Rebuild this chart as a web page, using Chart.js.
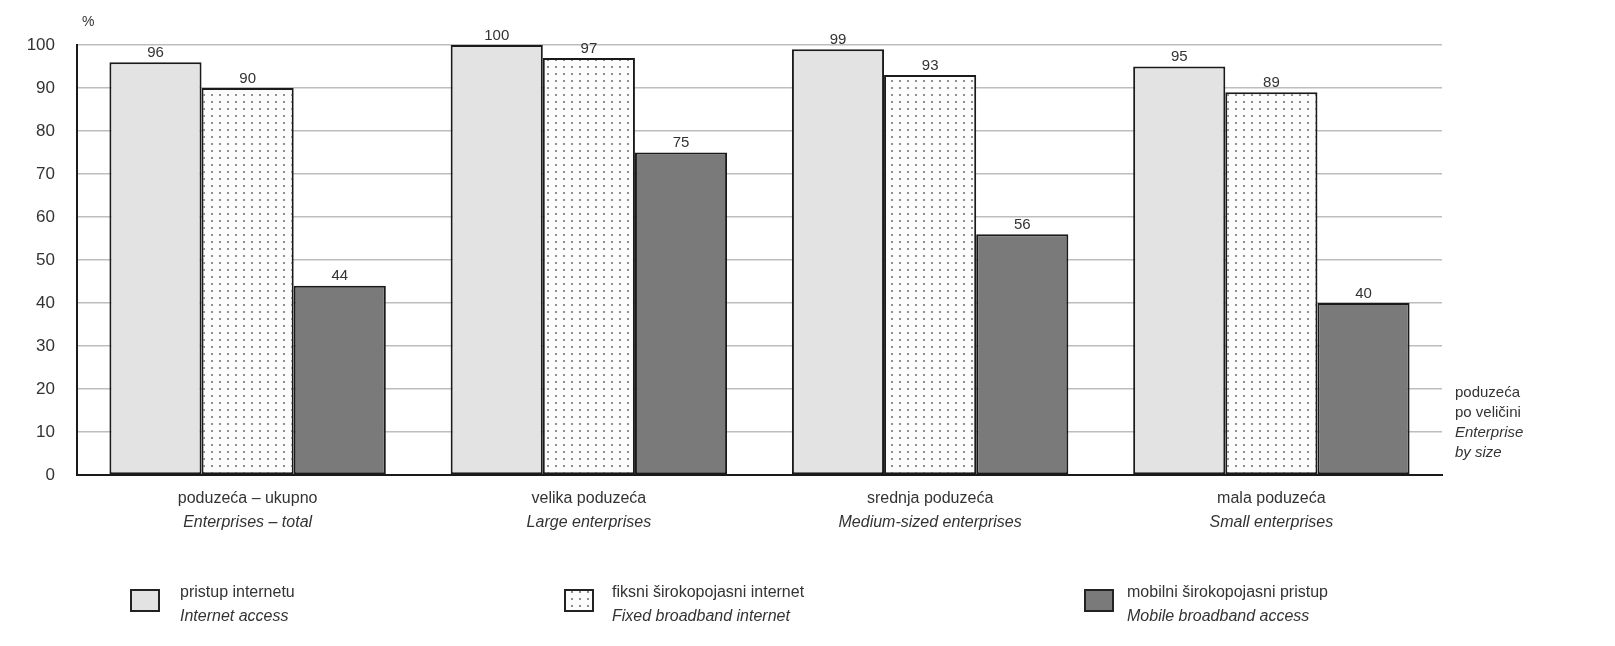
<!DOCTYPE html>
<html>
<head>
<meta charset="utf-8">
<script src="https://cdn.jsdelivr.net/npm/chart.js@4/dist/chart.umd.min.js"></script>
<style>
    html, body { margin: 0; padding: 0; background: #fff; overflow: hidden; }
    #wrap { width: 1615px; height: 646px; position: relative; }
</style>
</head>
<body>
<div id="wrap"><canvas id="chart"></canvas></div>
<script>
var categoriesHr = ["poduzeća – ukupno", "velika poduzeća", "srednja poduzeća", "mala poduzeća"];
var categoriesEn = ["Enterprises – total", "Large enterprises", "Medium-sized enterprises", "Small enterprises"];

var seriesHr = ["pristup internetu", "fiksni širokopojasni internet", "mobilni širokopojasni pristup"];
var seriesEn = ["Internet access", "Fixed broadband internet", "Mobile broadband access"];

var internetAccess = [96, 100, 99, 95];
var fixedBroadband = [90, 97, 93, 89];
var mobileBroadband = [44, 75, 56, 40];

var yTicks = [0, 10, 20, 30, 40, 50, 60, 70, 80, 90, 100];

var FONT = "'Liberation Sans', Arial, sans-serif";
var TEXT = "#333";

function makeDots() {
    var c = document.createElement("canvas");
    c.width = 8;
    c.height = 7;
    var g = c.getContext("2d");
    g.fillStyle = "#fcfcfc";
    g.fillRect(0, 0, 8, 7);
    g.fillStyle = "#8e8e8e";
    g.fillRect(3, 3, 2, 2);
    return g.createPattern(c, "repeat");
}
var dots = makeDots();

var fills = ["#e3e3e3", dots, "#7a7a7a"];

// value labels above bars
var valueLabels = {
    id: "valueLabels",
    afterDatasetsDraw: function (chart) {
        var ctx = chart.ctx;
        ctx.save();
        ctx.font = "15px " + FONT;
        ctx.fillStyle = TEXT;
        ctx.textAlign = "center";
        ctx.textBaseline = "bottom";
        chart.data.datasets.forEach(function (ds, i) {
            chart.getDatasetMeta(i).data.forEach(function (bar, j) {
                ctx.fillText(ds.data[j], bar.x, bar.y - 2);
            });
        });
        ctx.restore();
    }
};

// category labels, extra texts and legend
var extras = {
    id: "extras",
    afterDraw: function (chart) {
        var ctx = chart.ctx;
        var xs = chart.scales.x;
        ctx.save();
        ctx.fillStyle = TEXT;
        ctx.textBaseline = "middle";

        ctx.textAlign = "center";
        for (var i = 0; i < categoriesHr.length; i++) {
            var x = xs.getPixelForValue(i);
            ctx.font = "16px " + FONT;
            ctx.fillText(categoriesHr[i], x, 499);
            ctx.font = "italic 16px " + FONT;
            ctx.fillText(categoriesEn[i], x, 523);
        }

        ctx.textAlign = "left";
        ctx.font = "14px " + FONT;
        ctx.fillText("%", 82, 22);

        ctx.font = "15px " + FONT;
        ctx.fillText("poduzeća", 1455, 393);
        ctx.fillText("po veličini", 1455, 413);
        ctx.font = "italic 15px " + FONT;
        ctx.fillText("Enterprise", 1455, 433);
        ctx.fillText("by size", 1455, 453);

        // legend
        var boxX = [131, 565, 1085];
        var textX = [180, 612, 1127];
        for (var k = 0; k < seriesHr.length; k++) {
            ctx.fillStyle = fills[k];
            ctx.fillRect(boxX[k], 590, 28, 21);
            ctx.strokeStyle = "#222";
            ctx.lineWidth = 2;
            ctx.strokeRect(boxX[k], 590, 28, 21);
            ctx.fillStyle = TEXT;
            ctx.font = "16px " + FONT;
            ctx.fillText(seriesHr[k], textX[k], 593);
            ctx.font = "italic 16px " + FONT;
            ctx.fillText(seriesEn[k], textX[k], 617);
        }
        ctx.restore();
    }
};

function makeDataset(idx, values) {
    return {
        label: seriesHr[idx],
        data: values,
        backgroundColor: fills[idx],
        borderColor: "#1a1a1a",
        borderWidth: 2,
        borderSkipped: false,
        categoryPercentage: 0.81,
        barPercentage: 1.0
    };
}

var ctx = document.getElementById("chart").getContext("2d");
var chart = new Chart(ctx, {
    type: "bar",
    data: {
        labels: categoriesHr,
        datasets: [
            makeDataset(0, internetAccess),
            makeDataset(1, fixedBroadband),
            makeDataset(2, mobileBroadband)
        ]
    },
    options: {
        responsive: true,
        maintainAspectRatio: false,
        animation: false,
        layout: { padding: { left: 0, right: 173, top: 45, bottom: 0 } },
        plugins: {
            legend: { display: false },
            tooltip: { enabled: false }
        },
        scales: {
            x: {
                grid: { display: false },
                border: { color: "#1a1a1a", width: 2 },
                ticks: { display: false },
                afterFit: function (scale) { scale.height = 171; }
            },
            y: {
                min: 0,
                max: 100,
                afterBuildTicks: function (scale) {
                    scale.ticks = yTicks.map(function (v) { return { value: v }; });
                },
                grid: { color: "#bdbdbd", lineWidth: 1.5, drawTicks: false },
                border: { color: "#1a1a1a", width: 2 },
                ticks: {
                    color: TEXT,
                    padding: 22,
                    font: { family: FONT, size: 17 }
                },
                afterFit: function (scale) { scale.width = 77; }
            }
        }
    },
    plugins: [valueLabels, extras]
});
</script>
</body>
</html>
